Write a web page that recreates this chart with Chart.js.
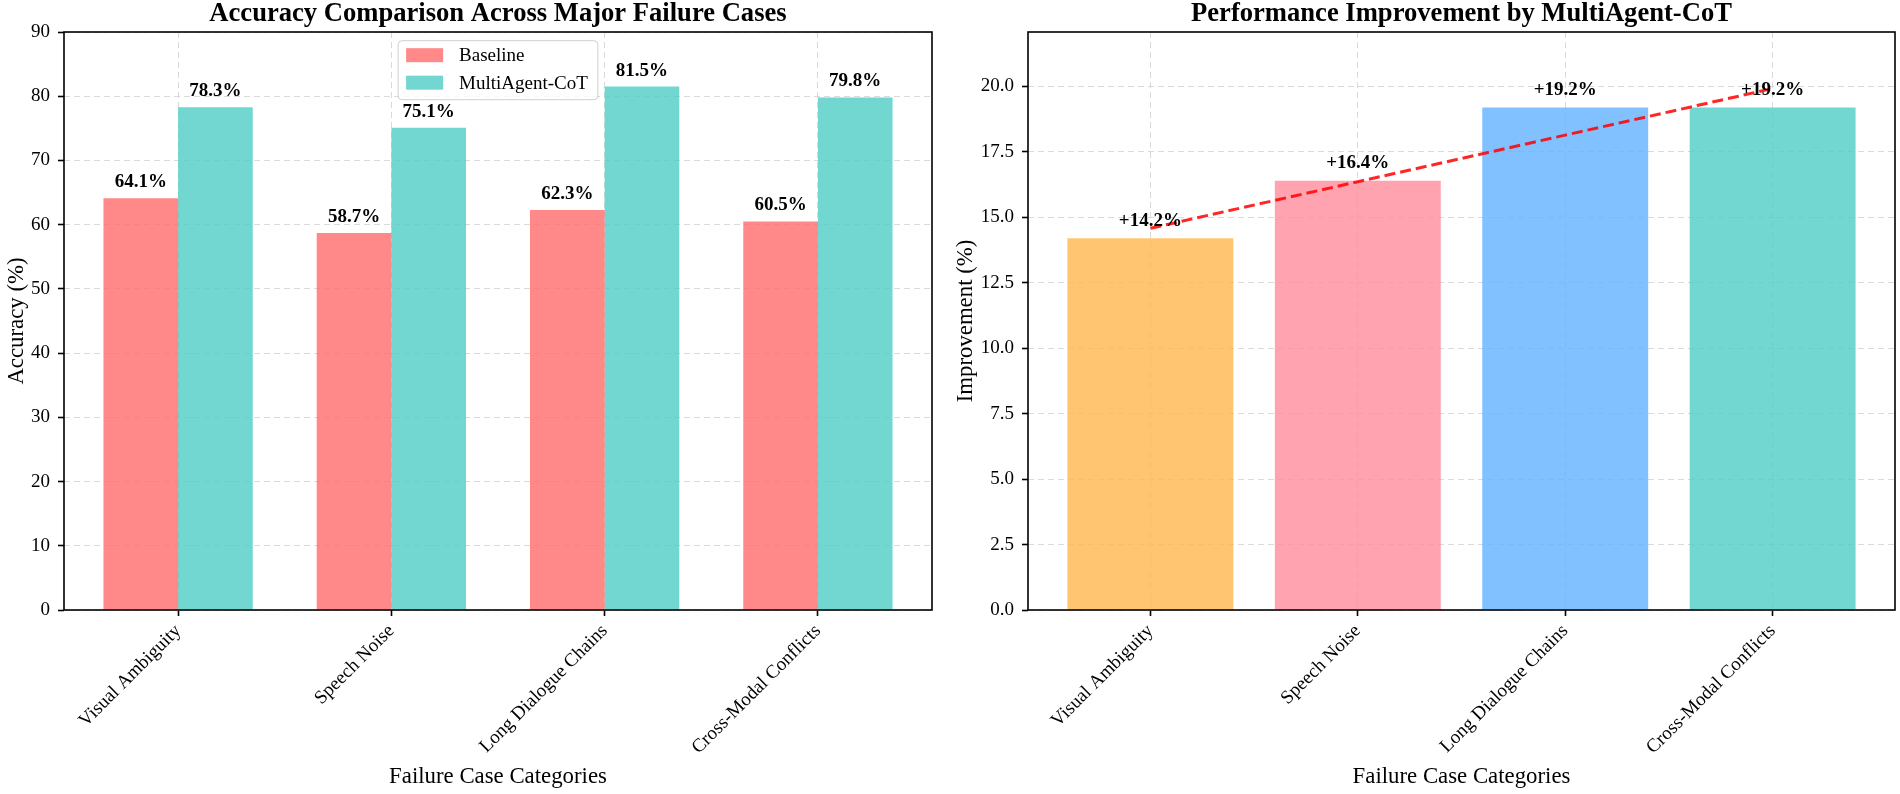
<!DOCTYPE html>
<html>
<head>
<meta charset="utf-8">
<script src="https://cdn.jsdelivr.net/npm/chart.js@4.4.1/dist/chart.umd.min.js"></script>
<style>
  html, body { margin: 0; padding: 0; background: #fff; }
  #wrap { position: relative; width: 1900px; height: 794px; }
  .panel { position: absolute; top: 0; width: 950px; height: 794px; }
  #left { left: 0; }
  #right { left: 950px; }
</style>
</head>
<body>
<div id="wrap">
  <div class="panel" id="left"><canvas id="accuracy-canvas" width="950" height="794"></canvas></div>
  <div class="panel" id="right"><canvas id="improvement-canvas" width="950" height="794"></canvas></div>
</div>
<script>
// data
const categories = ['Visual Ambiguity', 'Speech Noise', 'Long Dialogue Chains', 'Cross-Modal Conflicts'];
const baseline = [64.1, 58.7, 62.3, 60.5];
const multiAgent = [78.3, 75.1, 81.5, 79.8];
const improvement = [14.2, 16.4, 19.2, 19.2];
const trend = [14.58, 16.36, 18.14, 19.92];
const accuracyTicks = [0, 10, 20, 30, 40, 50, 60, 70, 80, 90];
const improvementTicks = [0.0, 2.5, 5.0, 7.5, 10.0, 12.5, 15.0, 17.5, 20.0];
const improvementColors = ['rgba(255,183,77,0.8)', 'rgba(255,140,156,0.8)', 'rgba(99,178,255,0.8)', 'rgba(78,205,196,0.8)'];

const SERIF = '"Liberation Serif", "Times New Roman", serif';
Chart.defaults.font.family = SERIF;
Chart.defaults.color = '#000';

const GRID = '#dadada';

const framePlugin = {
  id: 'frame',
  afterDatasetsDraw(chart) {
    const { ctx, chartArea: a } = chart;
    ctx.save();
    ctx.strokeStyle = '#000';
    ctx.lineWidth = 1.6;
    ctx.strokeRect(a.left, a.top, a.right - a.left, a.bottom - a.top);
    ctx.restore();
  }
};

const valueLabelPlugin = {
  id: 'valueLabels',
  afterDatasetsDraw(chart, args, opts) {
    const { ctx } = chart;
    const y = chart.scales.y;
    ctx.save();
    ctx.font = 'bold 19px ' + SERIF;
    ctx.fillStyle = '#000';
    ctx.textAlign = 'center';
    ctx.textBaseline = 'bottom';
    chart.data.datasets.forEach((ds, di) => {
      if (ds.type === 'line') return;
      chart.getDatasetMeta(di).data.forEach((bar, i) => {
        const v = ds.data[i].y;
        ctx.fillText(opts.prefix + v.toFixed(1) + '%', bar.x, y.getPixelForValue(v + opts.offset));
      });
    });
    ctx.restore();
  }
};

const panelTitlePlugin = {
  id: 'panelTitle',
  afterDraw(chart, args, opts) {
    const { ctx, chartArea: a } = chart;
    ctx.save();
    ctx.font = 'bold 26.6px ' + SERIF;
    ctx.fillStyle = '#000';
    ctx.textAlign = 'center';
    ctx.textBaseline = 'alphabetic';
    ctx.fillText(opts.text, (a.left + a.right) / 2, 21);
    ctx.restore();
  }
};

const boxLegendPlugin = {
  id: 'boxLegend',
  afterDraw(chart, args, opts) {
    if (!opts.display) return;
    const { ctx, chartArea: a } = chart;
    ctx.save();
    ctx.font = '19px ' + SERIF;
    const items = chart.data.datasets.map(d => ({ label: d.label, color: d.backgroundColor }));
    const textW = Math.max(...items.map(it => ctx.measureText(it.label).width));
    const sw = 37, sh = 14, padL = 8, gap = 16, padR = 10, rowH = 27.5, padT = 14.5, padB = 17;
    const w = padL + sw + gap + textW + padR;
    const h = padT + rowH * (items.length - 1) + padB;
    const x = (a.left + a.right) / 2 - w / 2;
    const y = a.top + 8.7;
    const r = 4;
    ctx.beginPath();
    ctx.moveTo(x + r, y);
    ctx.arcTo(x + w, y, x + w, y + h, r);
    ctx.arcTo(x + w, y + h, x, y + h, r);
    ctx.arcTo(x, y + h, x, y, r);
    ctx.arcTo(x, y, x + w, y, r);
    ctx.closePath();
    ctx.fillStyle = 'rgba(255,255,255,0.8)';
    ctx.fill();
    ctx.strokeStyle = '#cfcfcf';
    ctx.lineWidth = 1;
    ctx.stroke();
    items.forEach((it, i) => {
      const cy = y + padT + i * rowH;
      ctx.fillStyle = it.color;
      ctx.fillRect(x + padL, cy - sh / 2, sw, sh);
      ctx.fillStyle = '#000';
      ctx.textAlign = 'left';
      ctx.textBaseline = 'middle';
      ctx.fillText(it.label, x + padL + sw + gap, cy + 1);
    });
    ctx.restore();
  }
};

function xScale(min, max) {
  return {
    type: 'linear', min: min, max: max, offset: false,
    afterBuildTicks: s => { s.ticks = categories.map((c, i) => ({ value: i })); },
    afterFit: s => { s.height = 184; },
    ticks: { autoSkip: false, minRotation: 45, maxRotation: 45, font: { family: SERIF, size: 19 }, padding: 4,
             callback: v => categories[v] },
    grid: { offset: false, color: GRID, lineWidth: 1, tickLength: 6, tickColor: '#000', tickWidth: 1.6, tickBorderDash: [] },
    border: { display: false, dash: [6, 4] },
    title: { display: true, text: 'Failure Case Categories', font: { family: SERIF, size: 22.8 }, padding: { top: 0, bottom: 3 } }
  };
}

function yScale(max, tickValues, width, titleText, fmt, titlePad) {
  return {
    min: 0, max: max,
    afterBuildTicks: s => { s.ticks = tickValues.map(v => ({ value: v })); },
    afterFit: s => { s.width = width; },
    ticks: { font: { family: SERIF, size: 19 }, padding: 8, callback: fmt },
    grid: { color: GRID, lineWidth: 1, tickLength: 6, tickColor: '#000', tickWidth: 1.6, tickBorderDash: [] },
    border: { display: false, dash: [6, 4] },
    title: { display: true, text: titleText, font: { family: SERIF, size: 22.8 }, padding: { top: titlePad, bottom: 0 } }
  };
}

new Chart(document.getElementById('accuracy-canvas'), {
  type: 'bar',
  data: {
    datasets: [
      { label: 'Baseline', data: baseline.map((v, i) => ({ x: i, y: v })),
        backgroundColor: 'rgba(255,107,107,0.8)', categoryPercentage: 0.7, barPercentage: 1.0 },
      { label: 'MultiAgent-CoT', data: multiAgent.map((v, i) => ({ x: i, y: v })),
        backgroundColor: 'rgba(78,205,196,0.8)', categoryPercentage: 0.7, barPercentage: 1.0 }
    ]
  },
  options: {
    responsive: false,
    animation: false,
    layout: { padding: { top: 32, right: 18, left: 0, bottom: 0 } },
    plugins: {
      legend: { display: false },
      tooltip: { enabled: false },
      panelTitle: { text: 'Accuracy Comparison Across Major Failure Cases' },
      valueLabels: { offset: 1, prefix: '' },
      boxLegend: { display: true }
    },
    scales: {
      x: xScale(-0.535, 3.535),
      y: yScale(90, accuracyTicks, 64, 'Accuracy (%)', v => String(v), 3)
    }
  },
  plugins: [framePlugin, valueLabelPlugin, panelTitlePlugin, boxLegendPlugin]
});

new Chart(document.getElementById('improvement-canvas'), {
  type: 'bar',
  data: {
    datasets: [
      { type: 'line', label: 'Trend', data: trend.map((v, i) => ({ x: i, y: v })),
        borderColor: 'rgba(255,0,0,0.85)', borderWidth: 3, borderDash: [11, 5],
        pointRadius: 0, fill: false, tension: 0, order: 0 },
      { label: 'Improvement', data: improvement.map((v, i) => ({ x: i, y: v })),
        backgroundColor: improvementColors, categoryPercentage: 0.8, barPercentage: 1.0, order: 1 }
    ]
  },
  options: {
    responsive: false,
    animation: false,
    layout: { padding: { top: 32, right: 5, left: 0, bottom: 0 } },
    plugins: {
      legend: { display: false },
      tooltip: { enabled: false },
      panelTitle: { text: 'Performance Improvement by MultiAgent-CoT' },
      valueLabels: { offset: 0.3, prefix: '+' },
      boxLegend: { display: false }
    },
    scales: {
      x: xScale(-0.59, 3.59),
      y: yScale(22.08, improvementTicks, 78, 'Improvement (%)', v => v.toFixed(1), 2)
    }
  },
  plugins: [framePlugin, valueLabelPlugin, panelTitlePlugin, boxLegendPlugin]
});
</script>
</body>
</html>
